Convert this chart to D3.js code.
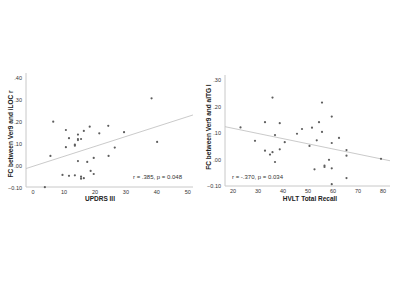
<!DOCTYPE html>
<html>
<head>
<meta charset="utf-8">
<script src="https://cdn.jsdelivr.net/npm/d3@7"></script>
<style>
  body { margin: 0; background: #fff; }
  svg { font-family: "Liberation Sans", Arial, sans-serif; }
</style>
</head>
<body>
<svg width="400" height="300"></svg>
<script>
// left panel: UPDRS III vs FC Ver9 - iLOC r
const updrs = [38.3, 6.5, 18.3, 24.3, 10.6, 16.4, 21.4, 29.4, 14.5, 11.6, 14.5, 14.5, 15.5, 13.5, 13.5,
    40.1, 10.6, 26.4, 5.6, 24.4, 19.6, 14.5, 17.5, 18.6, 19.6, 9.5, 11.6, 13.5, 15.5, 15.5, 16.4, 3.8]
const fcLoc = [0.305, 0.199, 0.176, 0.18, 0.161, 0.157, 0.146, 0.151, 0.14, 0.124, 0.12, 0.115, 0.12, 0.095, 0.09,
    0.107, 0.083, 0.081, 0.043, 0.043, 0.034, 0.02, 0.016, -0.025, -0.039, -0.043, -0.047, -0.045, -0.051, -0.06, -0.058, -0.099]

// right panel: HVLT total recall vs FC Ver9 - aITG l
const hvlt = [35.8, 55.6, 59.5, 23, 32.8, 38.7, 54.4, 47.6, 51.6, 55.6, 45.6, 36.8, 28.8, 40.7, 53.5, 62.4,
    59.5, 50.6, 38.7, 32.8, 35.8, 34.8, 65.4, 65.4, 36.8, 58.4, 56.6, 56.6, 52.6, 59.5, 65.4, 59.5, 79.2]
const fcItg = [0.233, 0.214, 0.161, 0.12, 0.14, 0.136, 0.14, 0.114, 0.119, 0.103, 0.096, 0.091, 0.069, 0.064, 0.071, 0.08,
    0.061, 0.05, 0.037, 0.032, 0.026, 0.017, 0.034, 0.013, -0.011, -0.003, -0.025, -0.03, -0.039, -0.035, -0.072, -0.095, 0.001]

// fit lines [intercept, slope]
const fitLeft = [-0.0038, 0.00451]
const fitRight = [0.1556, -0.001955]

const xTicksLeft = [0, 10, 20, 30, 40, 50]
const yTicksLeft = [-0.1, 0, 0.1, 0.2, 0.3, 0.4]
const xTicksRight = [20, 30, 40, 50, 60, 70, 80]
const yTicksRight = [-0.1, 0, 0.1, 0.2, 0.3]

const svg = d3.select("svg")
const fmtY = d => d3.format(".2f")(d).replace(/^(-?)0\./, "$1.")

function drawPanel(p) {
    const x = d3.scaleLinear().domain(p.xDomain).range(p.xRange)
    const y = d3.scaleLinear().domain(p.yDomain).range(p.yRange)
    const g = svg.append("g")

    // axis lines
    g.append("line").attr("x1", p.xRange[0]).attr("x2", p.xRange[0])
        .attr("y1", p.yRange[0]).attr("y2", p.yRange[1])
        .attr("stroke", "#c8c8c8").attr("stroke-width", 1)
    g.append("line").attr("x1", p.xRange[0]).attr("x2", p.xRange[1])
        .attr("y1", p.yRange[0]).attr("y2", p.yRange[0])
        .attr("stroke", "#c8c8c8").attr("stroke-width", 1)

    g.selectAll(".ytick").data(p.yTicks).join("text")
        .attr("x", p.xRange[0] - 4).attr("y", d => y(d) + 2.5)
        .attr("text-anchor", "end").attr("font-size", 5.5).attr("fill", "#333")
        .text(fmtY)
    g.selectAll(".xtick").data(p.xTicks).join("text")
        .attr("x", d => x(d)).attr("y", p.yRange[0] + 7)
        .attr("text-anchor", "middle").attr("font-size", 5.5).attr("fill", "#333")
        .text(d => d)

    // fit line
    const xs = x.domain()
    g.append("line")
        .attr("x1", x(xs[0])).attr("y1", y(p.fit[0] + p.fit[1] * xs[0]))
        .attr("x2", x(xs[1])).attr("y2", y(p.fit[0] + p.fit[1] * xs[1]))
        .attr("stroke", "#c4c4c4").attr("stroke-width", 0.9)

    g.selectAll("circle").data(d3.zip(p.xs, p.ys)).join("circle")
        .attr("cx", d => x(d[0])).attr("cy", d => y(d[1]))
        .attr("r", 1.1).attr("fill", "#5e5e5e")

    g.append("text").attr("x", p.xLabelPos[0]).attr("y", p.xLabelPos[1])
        .attr("text-anchor", "middle").attr("font-size", 6.5).attr("font-weight", "bold").attr("fill", "#222")
        .text(p.xLabel)
    g.append("text")
        .attr("transform", `translate(${p.yLabelPos[0]},${p.yLabelPos[1]}) rotate(-90)`)
        .attr("text-anchor", "middle").attr("font-size", 6.5).attr("font-weight", "bold").attr("fill", "#222")
        .text(p.yLabel)
    g.append("text").attr("x", p.notePos[0]).attr("y", p.notePos[1])
        .attr("font-size", 6).attr("fill", "#333")
        .text(p.note)
}

drawPanel({
    xs: updrs, ys: fcLoc, fit: fitLeft,
    xDomain: [-2.3, 51.7], xRange: [26, 193],
    yDomain: [-0.098, 0.42], yRange: [187, 73],
    xTicks: xTicksLeft, yTicks: yTicksLeft,
    xLabel: "UPDRS III", xLabelPos: [100, 200.5],
    yLabel: "FC between Ver9 and iLOC r", yLabelPos: [12.5, 134],
    note: "r = .385, p = 0.048", notePos: [133, 179]
})

drawPanel({
    xs: hvlt, ys: fcItg, fit: fitRight,
    xDomain: [16.8, 82.8], xRange: [225, 390],
    yDomain: [-0.102, 0.3186], yRange: [186, 75],
    xTicks: xTicksRight, yTicks: yTicksRight,
    xLabel: "HVLT Total Recall", xLabelPos: [310, 200.5],
    yLabel: "FC between Ver9 and aITG l", yLabelPos: [210.5, 127],
    note: "r = -.370, p = 0.034", notePos: [232, 179]
})
</script>
</body>
</html>
